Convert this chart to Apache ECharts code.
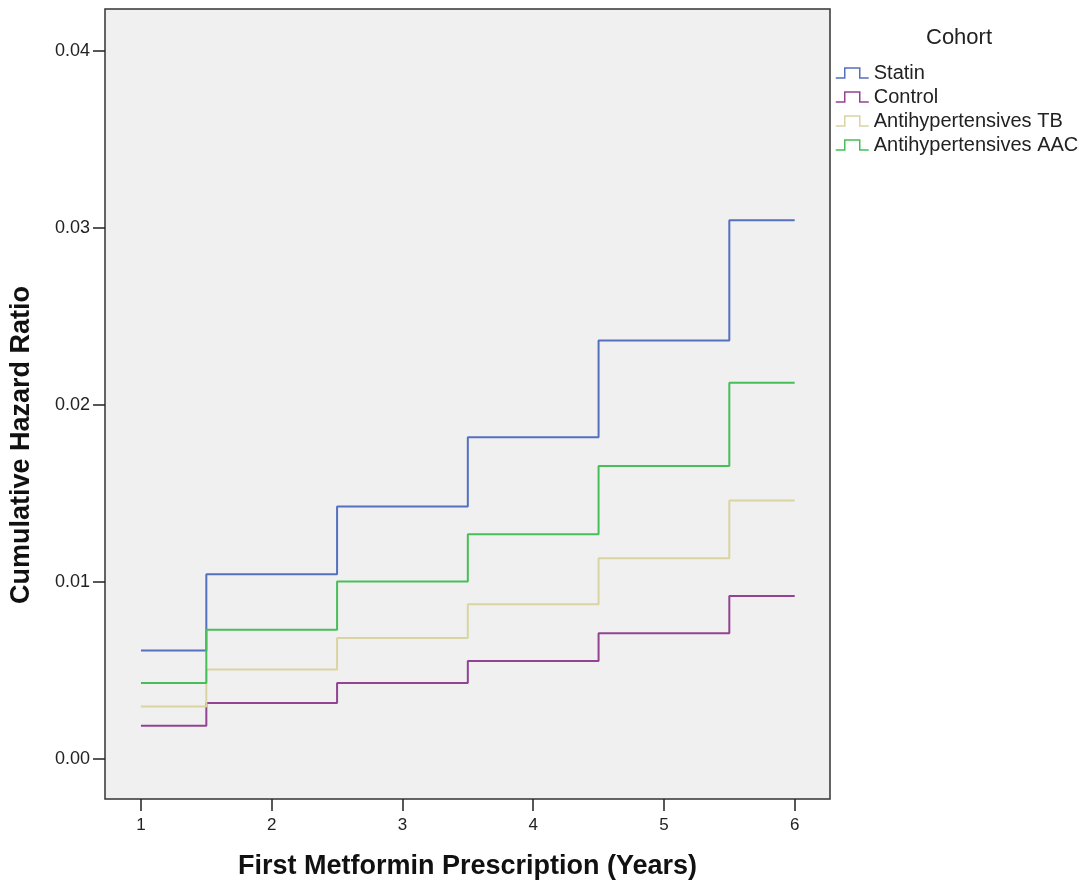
<!DOCTYPE html>
<html><head><meta charset="utf-8">
<script src="https://cdn.jsdelivr.net/npm/echarts@6/dist/echarts.min.js"></script>
<style>html,body{margin:0;padding:0;background:#fff}#c{width:1085px;height:884px}</style>
</head><body><div id="c"></div>
<script>
var years = [1, 1.5, 2.5, 3.5, 4.5, 5.5, 6];
var statin = [0.00613, 0.01044, 0.01427, 0.01818, 0.02364, 0.03043, 0.03043];
var control = [0.00188, 0.00316, 0.00430, 0.00553, 0.00711, 0.00921, 0.00921];
var antiTB = [0.00297, 0.00506, 0.00684, 0.00874, 0.01134, 0.01461, 0.01461];
var antiAAC = [0.00430, 0.00730, 0.01003, 0.01269, 0.01655, 0.02125, 0.02125];
var xTicks = [1, 2, 3, 4, 5, 6];
var yTicks = [0, 0.01, 0.02, 0.03, 0.04];
var names = ['Statin', 'Control', 'Antihypertensives TB', 'Antihypertensives AAC'];
var colors = ['#5470bf', '#924393', '#d9d4a2', '#47bf58'];
var seriesVals = [statin, control, antiTB, antiAAC];

function pairs(v) { return years.map(function (x, i) { return [x, v[i]]; }); }

var font = 'Arial, "Liberation Sans", sans-serif';
var stepIcon = 'path://M0,10 L9,10 L9,0 L24,0 L24,10 L33,10';

var chart = echarts.init(document.getElementById('c'));
chart.setOption({
  animation: false,
  backgroundColor: '#ffffff',
  title: {
    text: 'Cohort', left: 921, top: 22,
    textStyle: { fontFamily: font, fontSize: 22, fontWeight: 'normal', color: '#222' }
  },
  legend: {
    orient: 'vertical', left: 835, top: 63, itemGap: 4, padding: 0,
    itemWidth: 33, itemHeight: 10,
    textStyle: { fontFamily: font, fontSize: 20, lineHeight: 20, color: '#222' },
    data: names.map(function (n, i) {
      return { name: n, icon: stepIcon,
        itemStyle: { color: 'rgba(0,0,0,0)', borderColor: colors[i], borderWidth: 1.5 } };
    })
  },
  graphic: [{
    type: 'text', x: 22, y: 445, rotation: Math.PI / 2,
    style: { text: 'Cumulative Hazard Ratio', fill: '#111', align: 'center', verticalAlign: 'middle',
      font: 'bold 27px Arial, "Liberation Sans", sans-serif' }
  }],
  grid: {
    left: 105, top: 9, right: 255, bottom: 85, outerBoundsMode: 'none', containLabel: false,
    show: true, backgroundColor: '#f0f0f0', borderColor: '#333', borderWidth: 1.5
  },
  xAxis: {
    type: 'value', min: 0.725, max: 6.27,
    name: 'First Metformin Prescription (Years)', nameLocation: 'middle', nameGap: 54,
    nameTextStyle: { fontFamily: font, fontSize: 27, fontWeight: 'bold', color: '#111' },
    axisLine: { show: false, onZero: false },
    axisTick: { show: true, length: 12, customValues: xTicks, lineStyle: { color: '#222', width: 1.5 } },
    axisLabel: { customValues: xTicks, margin: 18, fontFamily: font, fontSize: 17, color: '#222' },
    splitLine: { show: false }
  },
  yAxis: {
    type: 'value', min: -0.00226, max: 0.04237,
    axisLine: { show: false, onZero: false },
    axisTick: { show: true, length: 12, customValues: yTicks, lineStyle: { color: '#222', width: 1.5 } },
    axisLabel: { customValues: yTicks, margin: 15, fontFamily: font, fontSize: 18, color: '#222',
      formatter: function (v) { return v.toFixed(2); } },
    splitLine: { show: false }
  },
  series: names.map(function (n, i) {
    return {
      name: n, type: 'line', step: 'end', showSymbol: false, symbol: 'none',
      data: pairs(seriesVals[i]),
      lineStyle: { color: colors[i], width: 2 },
      itemStyle: { color: colors[i] }
    };
  })
});
</script>
</body></html>
